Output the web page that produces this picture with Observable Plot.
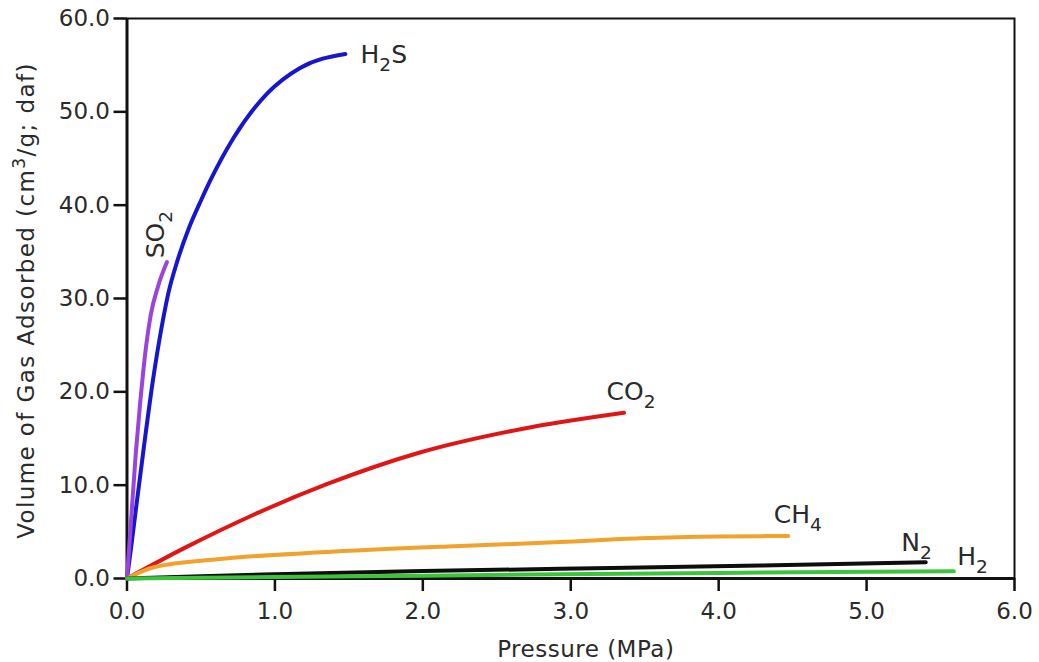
<!DOCTYPE html>
<html>
<head>
<meta charset="utf-8">
<script src="https://cdn.jsdelivr.net/npm/d3@7"></script>
<script src="https://cdn.jsdelivr.net/npm/@observablehq/plot@0.6"></script>
<style>
  html, body { margin: 0; padding: 0; background: white; }
</style>
</head>
<body>
<div id="chart"></div>
<script>
// ---- data ----
const xTicks = [0, 1, 2, 3, 4, 5, 6];
const yTicks = [0, 10, 20, 30, 40, 50, 60];

const gases = ["H2S", "SO2", "CO2", "CH4", "N2", "H2"];
const gasColors = ["#1616d0", "#9a44e0", "#e01616", "#f0a22c", "#0d0d0d", "#3cc43c"];

// pressure (MPa) / volume adsorbed (cm3/g daf)
const h2sP = [0, 0.03, 0.06, 0.115, 0.175, 0.235, 0.28, 0.34, 0.42, 0.50, 0.565, 0.72, 0.95, 1.17, 1.476];
const h2sV = [0, 3.6, 7.4, 14.2, 21.2, 27.0, 30.6, 34.0, 37.6, 40.5, 42.7, 47.2, 52.0, 54.7, 56.2];

const so2P = [0, 0.03, 0.06, 0.09, 0.11, 0.13, 0.16, 0.21, 0.27];
const so2V = [0, 6.8, 13.5, 19.0, 22.2, 25.0, 28.2, 31.3, 33.9];

const co2P = [0, 0.41, 0.86, 1.35, 1.98, 2.66, 3.36];
const co2V = [0, 3.44, 6.86, 10.1, 13.5, 16.0, 17.76];

const ch4P = [0, 0.18, 0.63, 1.31, 2.21, 2.93, 3.47, 4.0, 4.47];
const ch4V = [0, 1.2, 2.1, 2.8, 3.46, 3.9, 4.3, 4.5, 4.55];

const n2P = [0, 0.5, 1, 2, 2.93, 4.28, 5.4];
const n2V = [0, 0.25, 0.45, 0.8, 1.04, 1.39, 1.75];

const h2P = [0, 1, 2, 2.93, 4, 5.59];
const h2V = [0, 0.15, 0.3, 0.45, 0.6, 0.78];

// label anchor points (data units)
const labelText = ["H2S", "SO2", "CO2", "CH4", "N2", "H2"];
const labelP = [1.579, 0.249, 3.242, 4.373, 5.235, 5.613];
const labelV = [55.2, 34.3, 19.08, 5.93, 3.0, 1.5];

const xTitle = "Pressure (MPa)";
const yTitle = "Volume of Gas Adsorbed (cm3/g; daf)";

// ---- build tables ----
const seriesP = [h2sP, so2P, co2P, ch4P, n2P, h2P];
const seriesV = [h2sV, so2V, co2V, ch4V, n2V, h2V];
const rows = gases.flatMap((g, k) => seriesP[k].map((p, i) => ({gas: g, p, v: seriesV[k][i]})));
const labels = labelText.map((t, i) => ({text: t, p: labelP[i], v: labelV[i]}));

const fmt = d3.format(".1f");
const textColor = "#2a2a2a";

const chart = Plot.plot({
  width: 1039,
  height: 662,
  marginLeft: 126.5,
  marginRight: 25,
  marginTop: 18,
  marginBottom: 84,
  style: {fontFamily: "'DejaVu Sans', sans-serif", fontSize: "23px", background: "white", color: textColor},
  x: {domain: [0, 6]},
  y: {domain: [0, 60]},
  color: {domain: gases, range: gasColors},
  marks: [
    Plot.frame({stroke: "#111", strokeWidth: 2}),
    Plot.axisY({ticks: yTicks, tickFormat: fmt, tickSize: 13, tickPadding: 4, stroke: "#111", strokeWidth: 2.5, fill: textColor, fontSize: 23, label: null}),
    Plot.axisX({ticks: xTicks, tickFormat: fmt, tickSize: 13, tickPadding: 11, stroke: "#111", strokeWidth: 2.5, fill: textColor, fontSize: 23, label: null}),
    Plot.ruleX([0], {stroke: "#111", strokeWidth: 3}),
    Plot.ruleY([0], {stroke: "#111", strokeWidth: 3}),
    Plot.line(rows, {x: "p", y: "v", z: "gas", stroke: "gas", strokeWidth: 4, curve: "monotone-x"}),
    Plot.text(labels.filter(d => d.text !== "SO2"), {x: "p", y: "v", text: "text", textAnchor: "start", lineAnchor: "bottom", fontSize: 25, fill: textColor}),
    Plot.text(labels.filter(d => d.text === "SO2"), {x: "p", y: "v", text: "text", textAnchor: "start", lineAnchor: "bottom", rotate: -90, fontSize: 25, fill: textColor}),
    Plot.text([xTitle], {text: d => d, frameAnchor: "bottom", textAnchor: "middle", dx: 15, dy: 78.7, lineAnchor: "bottom", fontSize: 23, fill: textColor}),
    Plot.text([yTitle], {text: d => d, frameAnchor: "left", textAnchor: "middle", rotate: -90, dx: -93.5, dy: 2, lineAnchor: "bottom", fontSize: 23, fill: textColor})
  ]
});

document.getElementById("chart").appendChild(chart);

// ---- sub/superscripts as real tspans ----
const NS = "http://www.w3.org/2000/svg";
function richText(el, fs, mode) {
  const s = el.textContent;
  const parts = s.match(/\d+|\D+/g) || [];
  el.textContent = "";
  let off = 0;
  for (const part of parts) {
    const t = document.createElementNS(NS, "tspan");
    if (/^\d+$/.test(part)) {
      const target = mode === "sub" ? fs * 0.32 : -fs * 0.38;
      t.setAttribute("font-size", (fs * 0.74).toFixed(1));
      t.setAttribute("dy", (target - off).toFixed(2));
      off = target;
    } else if (off !== 0) {
      t.setAttribute("dy", (-off).toFixed(2));
      off = 0;
    }
    t.textContent = part;
    el.appendChild(t);
  }
}
chart.querySelectorAll("text").forEach(el => {
  const s = el.textContent;
  if (labelText.includes(s)) richText(el, 25, "sub");
  else if (s === yTitle) { richText(el, 23, "sup"); el.style.letterSpacing = "1.4px"; }
  else if (s === xTitle) { el.style.letterSpacing = "0.5px"; }
});
</script>
</body>
</html>
